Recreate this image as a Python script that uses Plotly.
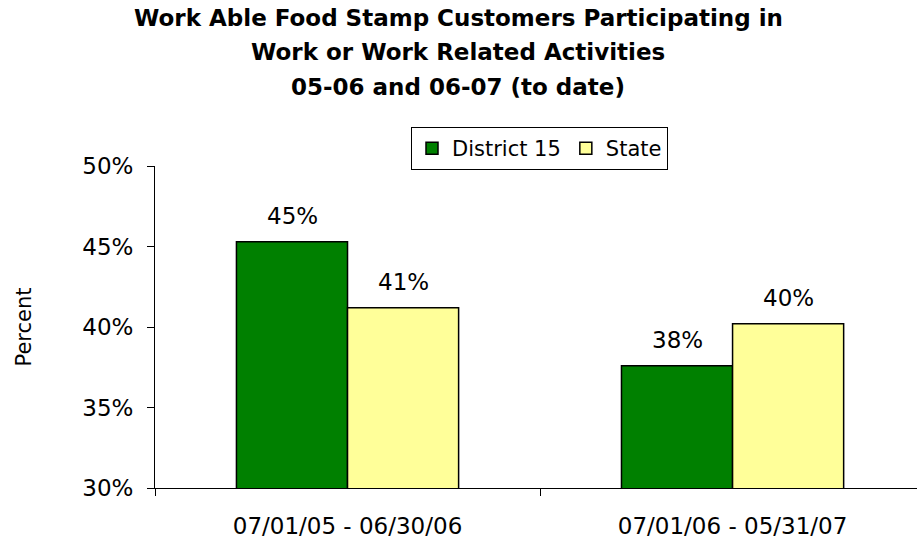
import plotly.graph_objects as go

categories = ["07/01/05 - 06/30/06", "07/01/06 - 05/31/07"]
district15 = [45.3, 37.6]
state = [41.2, 40.2]
labels_d15 = ["45%", "38%"]
labels_state = ["41%", "40%"]
yticks = [30, 35, 40, 45, 50]

FONT = "DejaVu Sans"
GREEN = "#008000"
YELLOW = "#FFFF99"

fig = go.Figure()
fig.add_trace(go.Bar(name="District 15", x=categories, y=district15,
                     marker=dict(color=GREEN, line=dict(color="black", width=1.5))))
fig.add_trace(go.Bar(name="State", x=categories, y=state,
                     marker=dict(color=YELLOW, line=dict(color="black", width=1.5))))

# data labels
for cat, v, t in zip(categories, district15, labels_d15):
    fig.add_annotation(x=cat, y=v, text=t, showarrow=False, xshift=-55.5, yshift=11,
                       yanchor="bottom", font=dict(family=FONT, size=23, color="black"))
for cat, v, t in zip(categories, state, labels_state):
    fig.add_annotation(x=cat, y=v, text=t, showarrow=False, xshift=55.5, yshift=11,
                       yanchor="bottom", font=dict(family=FONT, size=23, color="black"))

# title lines
title_lines = ["Work Able Food Stamp Customers Participating in",
               "Work or Work Related Activities",
               "05-06 and 06-07 (to date)"]
title_y_px = [18, 52, 87]
for line, ypx in zip(title_lines, title_y_px):
    fig.add_annotation(xref="paper", yref="paper", x=(458 - 155) / 762, y=(488 - ypx) / 322,
                       text="<b>" + line + "</b>", showarrow=False, xanchor="center", yanchor="middle",
                       font=dict(family=FONT, size=23, color="black"))

fig.update_layout(
    width=917, height=542,
    margin=dict(l=155, r=0, t=166, b=54, pad=0),
    paper_bgcolor="white", plot_bgcolor="white",
    barmode="group", bargap=0.423, bargroupgap=0,
    font=dict(family=FONT, size=22, color="black"),
    showlegend=True,
    legend=dict(orientation="h", x=(411 - 155) / 762, y=(488 - 127) / 322,
                xanchor="left", yanchor="top", bordercolor="black", borderwidth=1,
                bgcolor="white", font=dict(family=FONT, size=21), itemwidth=30,
                tracegroupgap=0, traceorder="normal"),
    xaxis=dict(type="category", range=[-0.5, 1.479], showline=True, linecolor="black", linewidth=1,
               ticks="outside", tickson="boundaries", ticklen=7, tickcolor="black",
               showgrid=False, zeroline=False, ticklabelstandoff=17,
               tickfont=dict(family=FONT, size=23)),
    yaxis=dict(range=[30, 50], tickvals=yticks, ticktext=[f"{v}%" for v in yticks],
               showline=True, linecolor="black", linewidth=1, ticks="outside", ticklen=7,
               tickcolor="black", showgrid=False, zeroline=False,
               tickfont=dict(family=FONT, size=23), ticklabelstandoff=9,
               title=dict(text="Percent", font=dict(family=FONT, size=21), standoff=44)),
)

fig.write_html("out.html")
